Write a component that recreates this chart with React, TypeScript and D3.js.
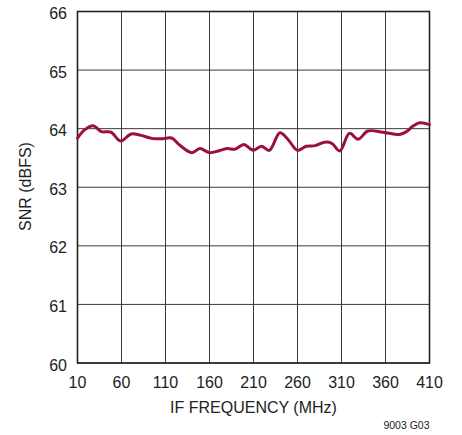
import React from 'react';
import * as d3 from 'd3';

// IF frequency (MHz) vs SNR (dBFS)
const freqs = [10, 18, 28, 37, 48, 59, 71, 81, 96, 107, 117, 126, 140, 149, 160, 170, 180, 189, 199, 206, 210, 219, 228, 240, 249, 260, 270, 280, 291, 299, 308, 319, 329, 340, 357, 376, 384, 391, 399, 410];
const snr = [63.84, 63.98, 64.05, 63.95, 63.94, 63.79, 63.91, 63.89, 63.83, 63.83, 63.84, 63.72, 63.59, 63.66, 63.59, 63.62, 63.66, 63.65, 63.73, 63.66, 63.63, 63.70, 63.63, 63.93, 63.82, 63.63, 63.70, 63.71, 63.77, 63.75, 63.62, 63.92, 63.82, 63.96, 63.94, 63.90, 63.95, 64.04, 64.10, 64.07];

const xTicks = [10, 60, 110, 160, 210, 260, 310, 360, 410];
const yTicks = [60, 61, 62, 63, 64, 65, 66];

const W = 462;
const H = 435;
const margin = { top: 11.5, right: 32.5, bottom: 72, left: 77.5 };
const font = '"Liberation Sans", Arial, sans-serif';

const App: React.FC = () => {
  const innerW = W - margin.left - margin.right;
  const innerH = H - margin.top - margin.bottom;

  const x = d3.scaleLinear().domain([10, 410]).range([0, innerW]);
  const y = d3.scaleLinear().domain([60, 66]).range([innerH, 0]);

  const points = freqs.map((f, i) => ({ f, v: snr[i] }));
  const line = d3.line<{ f: number; v: number }>()
    .x(d => x(d.f))
    .y(d => y(d.v))
    .curve(d3.curveCatmullRom.alpha(0.5));

  return (
    <svg width={W} height={H} style={{ position: 'absolute', left: 0, top: 0 }}>
      <rect width={W} height={H} fill="#fff" />
      <g transform={`translate(${margin.left},${margin.top})`}>
        {/* grid */}
        {xTicks.map(t => (
          <line key={'gx' + t} x1={x(t)} x2={x(t)} y1={0} y2={innerH} stroke="#3a3a3a" strokeWidth={1} />
        ))}
        {yTicks.map(t => (
          <line key={'gy' + t} x1={0} x2={innerW} y1={y(t)} y2={y(t)} stroke="#3a3a3a" strokeWidth={1} />
        ))}
        <rect x={0} y={0} width={innerW} height={innerH} fill="none" stroke="#222" strokeWidth={1.6} />

        {/* data */}
        <path d={line(points) ?? ''} fill="none" stroke="#9b1139" strokeWidth={3} strokeLinejoin="round" strokeLinecap="round" />

        {/* tick labels */}
        {xTicks.map(t => (
          <text key={'tx' + t} x={x(t)} y={innerH + 24.5} textAnchor="middle" fontFamily={font} fontSize={16} fill="#222">
            {t}
          </text>
        ))}
        {yTicks.map(t => (
          <text key={'ty' + t} x={-10.5} y={y(t) + 7.5} textAnchor="end" fontFamily={font} fontSize={16} fill="#222">
            {t}
          </text>
        ))}

        {/* axis titles */}
        <text x={innerW / 2} y={innerH + 50} textAnchor="middle" fontFamily={font} fontSize={16} fill="#222">
          IF FREQUENCY (MHz)
        </text>
        <text transform={`translate(${31 - margin.left},${186.5 - margin.top}) rotate(-90)`} textAnchor="middle" fontFamily={font} fontSize={16} fill="#222">
          SNR (dBFS)
        </text>
        <text x={innerW} y={innerH + 66} textAnchor="end" fontFamily={font} fontSize={10.5} fill="#222">
          9003 G03
        </text>
      </g>
    </svg>
  );
};

export default App;
